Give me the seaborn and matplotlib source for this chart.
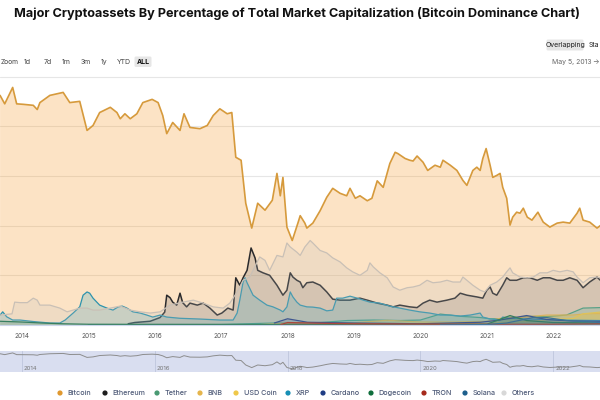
import matplotlib
matplotlib.use("Agg")
import matplotlib.pyplot as plt
from matplotlib.patches import FancyBboxPatch
import seaborn as sns
import pandas as pd

# ---------------- data (share of total crypto market cap, %) ----------------
assets = ["Bitcoin", "Ethereum", "Tether", "BNB", "USD Coin", "XRP",
          "Cardano", "Dogecoin", "TRON", "Solana", "Others"]

btc_year = [2013.67, 2013.74, 2013.86, 2013.92, 2014.02, 2014.17, 2014.23, 2014.27, 2014.42, 2014.62,
            2014.72, 2014.87, 2014.98, 2015.07, 2015.17, 2015.33, 2015.43, 2015.48, 2015.55, 2015.63,
            2015.73, 2015.82, 2015.96, 2016.05, 2016.12, 2016.18, 2016.27, 2016.38, 2016.44, 2016.53,
            2016.68, 2016.79, 2016.88, 2016.98, 2017.09, 2017.16, 2017.22, 2017.30, 2017.37, 2017.46,
            2017.55, 2017.66, 2017.77, 2017.84, 2017.89, 2017.93, 2017.99, 2018.07, 2018.16, 2018.19,
            2018.26, 2018.29, 2018.38, 2018.49, 2018.59, 2018.68, 2018.79, 2018.89, 2018.94, 2019.02,
            2019.09, 2019.20, 2019.27, 2019.35, 2019.44, 2019.54, 2019.62, 2019.66, 2019.77, 2019.84,
            2019.89, 2019.95, 2020.04, 2020.11, 2020.22, 2020.30, 2020.34, 2020.45, 2020.55, 2020.64,
            2020.70, 2020.79, 2020.85, 2020.90, 2020.94, 2020.99, 2021.05, 2021.09, 2021.15, 2021.20,
            2021.24, 2021.30, 2021.35, 2021.39, 2021.45, 2021.50, 2021.55, 2021.61, 2021.68, 2021.77,
            2021.85, 2021.95, 2022.06, 2022.15, 2022.25, 2022.36, 2022.40, 2022.45, 2022.55, 2022.66,
            2022.71]
btc_share = [92.4, 89, 95.6, 89, 88.8, 88.4, 86.7, 89.5, 92.4, 93.6,
             89.5, 90, 78.3, 80.3, 85.5, 87.6, 85.5, 83, 85, 83,
             85, 89.5, 90.8, 89.5, 84.3, 77, 81.5, 78.3, 85, 79.5,
             79, 80.3, 84.3, 87, 85, 85.5, 67.5, 66.3, 49, 39,
             49, 46.2, 50.2, 61, 52, 59.4, 39.4, 34, 41.4, 44,
             41, 39, 41, 46, 51.4, 55, 53, 52, 55, 51,
             52, 50, 51, 58, 55.4, 65, 69.5, 69, 67, 66.3,
             66, 68, 65.5, 62.2, 64.3, 63.5, 66.3, 64.3, 62.2, 58.2,
             56.2, 62.2, 63.5, 62.2, 67, 71, 64.3, 59.4, 60.2, 61,
             55.4, 51, 40.2, 43.4, 45.4, 45, 47, 43.4, 42.2, 45.4,
             41.4, 39.4, 41, 41.4, 41, 45, 47, 42.2, 41.4, 39,
             40]

eth_year = [2015.60, 2015.70, 2015.93, 2016.08, 2016.15, 2016.18, 2016.23, 2016.27, 2016.33, 2016.38,
            2016.42, 2016.48, 2016.53, 2016.64, 2016.73, 2016.83, 2016.94, 2017.01, 2017.10, 2017.18,
            2017.22, 2017.28, 2017.33, 2017.39, 2017.45, 2017.51, 2017.55, 2017.63, 2017.73, 2017.84,
            2017.93, 2017.99, 2018.04, 2018.08, 2018.14, 2018.19, 2018.23, 2018.29, 2018.38, 2018.49,
            2018.59, 2018.68, 2018.79, 2018.94, 2019.09, 2019.20, 2019.35, 2019.50, 2019.59, 2019.69,
            2019.84, 2019.95, 2020.04, 2020.14, 2020.25, 2020.40, 2020.52, 2020.60, 2020.70, 2020.85,
            2020.94, 2021.00, 2021.05, 2021.09, 2021.15, 2021.24, 2021.30, 2021.35, 2021.45, 2021.55,
            2021.65, 2021.76, 2021.85, 2021.95, 2022.06, 2022.15, 2022.25, 2022.36, 2022.45, 2022.55,
            2022.66, 2022.71]
eth_share = [0.5, 1, 1.5, 3, 5.2, 12, 11, 9.2, 8, 12.8,
             9, 7.3, 8.8, 8, 8.8, 6.8, 4, 4.8, 6.8, 6,
             19, 16, 19, 22, 31, 27, 22, 21, 20, 16,
             12, 14, 21, 19.3, 18, 17.3, 15, 17, 17.3, 16,
             13.3, 10.4, 10, 10, 10.8, 10, 8.8, 8, 7.3, 8,
             7.3, 7, 8.8, 10, 9.2, 10, 10.8, 12.8, 12, 11.3,
             10.8, 14, 15.3, 12.8, 12, 16, 19, 18, 18, 19,
             19, 18, 19, 19, 18, 18, 19, 18, 15, 17.3,
             19.3, 18]

usdt_year = [2015.00, 2017.00, 2017.80, 2018.10, 2018.50, 2018.90, 2019.30, 2019.70, 2020.00, 2020.30,
             2020.60, 2020.90, 2021.05, 2021.35, 2021.60, 2021.90, 2022.20, 2022.45, 2022.71]
usdt_share = [0.1, 0.2, 0.8, 0.7, 1.0, 1.8, 2.0, 1.8, 2.0, 4.4,
              3.5, 3.0, 2.5, 2.5, 3.5, 3.4, 4.0, 6.8, 7.0]

bnb_year = [2017.60, 2018.00, 2019.00, 2019.50, 2020.00, 2020.50, 2021.00, 2021.30, 2021.50, 2021.90,
            2022.30, 2022.50, 2022.71]
bnb_share = [0.2, 0.8, 0.9, 1.9, 1.2, 1.2, 1.5, 3.2, 3.0, 4.0, 4.0, 4.5, 4.6]

usdc_year = [2018.90, 2020.50, 2021.00, 2021.40, 2021.70, 2022.00, 2022.30, 2022.45, 2022.71]
usdc_share = [0.1, 0.3, 0.5, 1.2, 1.5, 2.2, 2.6, 4.5, 5.2]

xrp_year = [2013.67, 2013.71, 2013.77, 2013.86, 2013.97, 2014.17, 2014.42, 2014.57, 2014.65, 2014.77,
            2014.87, 2014.92, 2014.98, 2015.02, 2015.07, 2015.17, 2015.28, 2015.37, 2015.45, 2015.51,
            2015.58, 2015.67, 2015.78, 2015.88, 2015.97, 2016.08, 2016.18, 2016.38, 2016.68, 2016.98,
            2017.18, 2017.24, 2017.28, 2017.33, 2017.36, 2017.39, 2017.48, 2017.58, 2017.69, 2017.78,
            2017.89, 2017.93, 2017.99, 2018.04, 2018.08, 2018.14, 2018.19, 2018.29, 2018.38, 2018.49,
            2018.59, 2018.68, 2018.74, 2018.83, 2018.94, 2019.05, 2019.14, 2019.24, 2019.39, 2019.54,
            2019.69, 2019.84, 2019.99, 2020.14, 2020.30, 2020.45, 2020.60, 2020.75, 2020.90, 2020.94,
            2021.05, 2021.20, 2021.24, 2021.35, 2021.65, 2022.10, 2022.71]
xrp_share = [4, 5.3, 3.3, 2, 2, 1.4, 0.8, 0.8, 2, 4.8,
             7.3, 12, 13.3, 12.8, 10.8, 8, 6.8, 6, 7.3, 7.6,
             6.8, 5.3, 4.8, 4, 3.2, 4, 3.2, 2.7, 2.4, 2,
             2, 4.8, 10, 17.3, 19, 17, 12, 10, 8, 7.3,
             6, 5.3, 7.3, 13.3, 11.3, 9.2, 8, 7.3, 7.2, 6.8,
             5.7, 6, 10.8, 10.8, 11.6, 10.8, 10, 9.2, 8.8, 7.6,
             6.8, 6, 5.3, 4.8, 4, 4, 3.6, 4, 4.8, 3.2,
             2.4, 2, 3.2, 2.7, 2.4, 2, 1.8]

ada_year = [2017.80, 2018.00, 2018.30, 2019.00, 2020.00, 2020.90, 2021.20, 2021.60, 2021.90, 2022.30, 2022.71]
ada_share = [0.8, 2.5, 1.1, 0.8, 0.5, 1.1, 2.0, 3.8, 2.2, 1.6, 1.5]

doge_year = [2013.67, 2014.00, 2014.30, 2014.60, 2015.00, 2017.90, 2021.00, 2021.35, 2021.60, 2022.00, 2022.71]
doge_share = [1.5, 1.2, 0.8, 0.5, 0.3, 0.2, 0.3, 3.8, 1.8, 1.0, 0.8]

trx_year = [2017.90, 2018.00, 2018.50, 2019.00, 2020.00, 2021.00, 2022.00, 2022.71]
trx_share = [0.2, 1.0, 0.7, 0.5, 0.4, 0.3, 0.3, 0.5]

sol_year = [2020.30, 2021.00, 2021.30, 2021.70, 2021.90, 2022.20, 2022.71]
sol_share = [0.02, 0.2, 0.8, 3.0, 3.0, 1.8, 1.0]

oth_year = [2013.67, 2013.85, 2013.89, 2013.97, 2014.08, 2014.17, 2014.23, 2014.27, 2014.42, 2014.57,
            2014.68, 2014.77, 2014.87, 2014.98, 2015.07, 2015.17, 2015.33, 2015.48, 2015.63, 2015.78,
            2015.93, 2016.08, 2016.23, 2016.42, 2016.58, 2016.73, 2016.88, 2017.03, 2017.13, 2017.24,
            2017.33, 2017.43, 2017.58, 2017.66, 2017.73, 2017.84, 2017.93, 2017.99, 2018.04, 2018.14,
            2018.19, 2018.26, 2018.34, 2018.38, 2018.49, 2018.59, 2018.68, 2018.79, 2018.89, 2018.98,
            2019.09, 2019.20, 2019.24, 2019.29, 2019.39, 2019.50, 2019.59, 2019.69, 2019.80, 2019.89,
            2019.99, 2020.10, 2020.19, 2020.30, 2020.40, 2020.49, 2020.60, 2020.64, 2020.70, 2020.79,
            2020.90, 2020.97, 2021.05, 2021.15, 2021.24, 2021.30, 2021.35, 2021.39, 2021.50, 2021.61,
            2021.70, 2021.80, 2021.91, 2022.00, 2022.10, 2022.21, 2022.30, 2022.36, 2022.45, 2022.55,
            2022.66, 2022.71]
oth_share = [4, 4.5, 9.2, 9, 9, 10.8, 10, 8, 8, 6.8,
             5.3, 6, 6.8, 6.8, 6, 6, 6.8, 7.6, 6, 5.3,
             4.8, 5.3, 8, 9.2, 10, 8.8, 7.3, 6.8, 8.8, 13.3,
             18, 19.3, 27.4, 26, 22, 28, 27.4, 33, 31.4, 29.3,
             28, 31.4, 34, 33, 30, 29, 27, 25.4, 23, 21.4,
             20, 22, 25, 23.4, 21, 19, 15.3, 14, 15, 15.3,
             16, 18, 17, 17.3, 18, 17.3, 17.3, 19.3, 18, 16,
             14, 13.3, 16, 17.3, 19.3, 21.4, 23, 21, 19.3, 19,
             19.3, 21, 21, 22, 21.4, 22, 21.4, 19.3, 17, 19,
             19.3, 19]

year_ticks = [2014, 2015, 2016, 2017, 2018, 2019, 2020, 2021, 2022]
nav_ticks = [2014, 2016, 2018, 2020, 2022]
range_buttons = ["1d", "7d", "1m", "3m", "1y", "YTD", "ALL"]

series = {
    "Bitcoin": (btc_year, btc_share), "Ethereum": (eth_year, eth_share),
    "Tether": (usdt_year, usdt_share), "BNB": (bnb_year, bnb_share),
    "USD Coin": (usdc_year, usdc_share), "XRP": (xrp_year, xrp_share),
    "Cardano": (ada_year, ada_share), "Dogecoin": (doge_year, doge_share),
    "TRON": (trx_year, trx_share), "Solana": (sol_year, sol_share),
    "Others": (oth_year, oth_share),
}

# ---------------- styles ----------------
line_col = {"Bitcoin": "#d69a3c", "Ethereum": "#2a2a2c", "Tether": "#3f9a7a", "BNB": "#e0b245",
            "USD Coin": "#e8c440", "XRP": "#2d93ad", "Cardano": "#1f3d84", "Dogecoin": "#16704a",
            "TRON": "#a62a1c", "Solana": "#1d5f8c", "Others": "#c9c0b6"}
fill_col = {"Bitcoin": ("#f7931a", 0.25), "Ethereum": ("#3c3c46", 0.17), "Tether": ("#50af95", 0.25),
            "BNB": ("#f0b90b", 0.25), "USD Coin": ("#e8c440", 0.3), "XRP": ("#23a0c0", 0.22),
            "Cardano": ("#1f3d84", 0.2), "Dogecoin": ("#16704a", 0.2), "TRON": ("#a62a1c", 0.2),
            "Solana": ("#1d5f8c", 0.2), "Others": ("#bfbfbf", 0.2)}
legend_col = {"Bitcoin": "#e0982f", "Ethereum": "#1e1e1e", "Tether": "#4a9a73", "BNB": "#e5b54c",
              "USD Coin": "#efc84a", "XRP": "#178fb5", "Cardano": "#1f3d84", "Dogecoin": "#0f6e3c",
              "TRON": "#a62a1c", "Solana": "#1d5f8c", "Others": "#d8d8d8"}
line_w = {"Bitcoin": 1.2, "Ethereum": 1.1, "Others": 0.9}

sns.set_theme(style="white")
plt.rcParams["font.family"] = ["Inter", "DejaVu Sans"]

W, H = 600, 400
fig = plt.figure(figsize=(6, 4), dpi=100)
X0, X1 = 2013.669, 2022.705

# main chart
ax = fig.add_axes([0, (H - 325) / H, 1, (325 - 76.5) / H])
ax.set_xlim(X0, X1)
ax.set_ylim(0, 100)
for g in [20, 40, 60, 80, 100]:
    ax.axhline(g, color="#e6e6e6", lw=0.8, zorder=0, clip_on=False)

for i, name in enumerate(assets):
    xs, ys = series[name]
    c, a = fill_col[name]
    ax.fill_between(xs, 0, ys, color=c, alpha=a, lw=0, zorder=1 + i * 0.1)
    df = pd.DataFrame({"year": xs, "share": ys})
    sns.lineplot(data=df, x="year", y="share", ax=ax, color=line_col[name],
                 lw=line_w.get(name, 0.9), estimator=None, sort=True,
                 zorder=1.05 + i * 0.1)

ax.set_xticks(year_ticks)
ax.set_xticklabels([str(y) for y in year_ticks], fontsize=4.7, color="#555555")
ax.tick_params(axis="x", length=0, pad=6)
ax.set_yticks([])
ax.set_xlabel("")
ax.set_ylabel("")
for s in ["top", "left", "right"]:
    ax.spines[s].set_visible(False)
ax.spines["bottom"].set_color("#ccd6eb")
ax.spines["bottom"].set_linewidth(0.8)
ax.set_facecolor("none")

# navigator
nav = fig.add_axes([0, (H - 372) / H, 1, 21 / H])
nav.set_facecolor("#d9def0")
nav.set_xlim(X0, X1)
nav.set_ylim(22, 103)
for t in nav_ticks:
    nav.axvline(t, color="#c2c9df", lw=0.7, zorder=0)
sns.lineplot(data=pd.DataFrame({"year": btc_year, "share": btc_share}), x="year", y="share",
             ax=nav, color="#8d8d8d", lw=0.7, estimator=None)
nav.set_xticks([])
nav.set_yticks([])
nav.set_xlabel("")
nav.set_ylabel("")
for s in nav.spines.values():
    s.set_visible(False)
for t in nav_ticks:
    nav.text(t + 0.03, 25, str(t), fontsize=4.3, color="#777777", ha="left", va="bottom")

# overlay (page furniture in pixel coordinates)
ov = fig.add_axes([0, 0, 1, 1], zorder=5)
ov.set_xlim(0, W)
ov.set_ylim(H, 0)
ov.axis("off")
ov.patch.set_alpha(0)

ov.text(296.5, 13, "Major Cryptoassets By Percentage of Total Market Capitalization (Bitcoin Dominance Chart)",
        fontsize=9.15, fontweight="bold", color="#111111", ha="center", va="center")

ov.text(1, 62, "Zoom", fontsize=4.8, color="#444444", ha="left", va="center")
btn_x = [27.5, 47.5, 66.5, 86, 104.5, 123.5, 143]
for lab, bx in zip(range_buttons, btn_x):
    bold = lab == "ALL"
    if bold:
        ov.add_patch(FancyBboxPatch((bx - 8.5, 56.5), 17, 10.5, boxstyle="round,pad=0,rounding_size=1.5",
                                    fc="#e6e6e6", ec="none"))
    ov.text(bx, 62, lab, fontsize=5, color="#111111" if bold else "#444444",
            fontweight="bold" if bold else "normal", ha="center", va="center")

ov.add_patch(FancyBboxPatch((546.5, 39.5), 37, 11, boxstyle="round,pad=0,rounding_size=1.5",
                            fc="#e6e6e6", ec="none"))
ov.text(565, 45, "Overlapping", fontsize=5, color="#222222", ha="center", va="center")
ov.text(588.5, 45, "Sta", fontsize=5, color="#222222", ha="left", va="center")
ov.text(552, 62, "May 5, 2013", fontsize=5, color="#666666", ha="left", va="center")
ov.text(592, 62, "\u2192", fontsize=5, color="#666666", ha="left", va="center")

# legend
dot_x = [60, 105, 157, 200, 236, 288, 323, 371, 424, 465, 504]
for name, dx in zip(assets, dot_x):
    ov.scatter([dx], [393], s=14, color=legend_col[name], edgecolors="none")
    ov.text(dx + 7.5, 393, name, fontsize=5.2, color="#4f5b78", ha="left", va="center",
            fontweight="medium")

fig.savefig("out.png", dpi=100)
